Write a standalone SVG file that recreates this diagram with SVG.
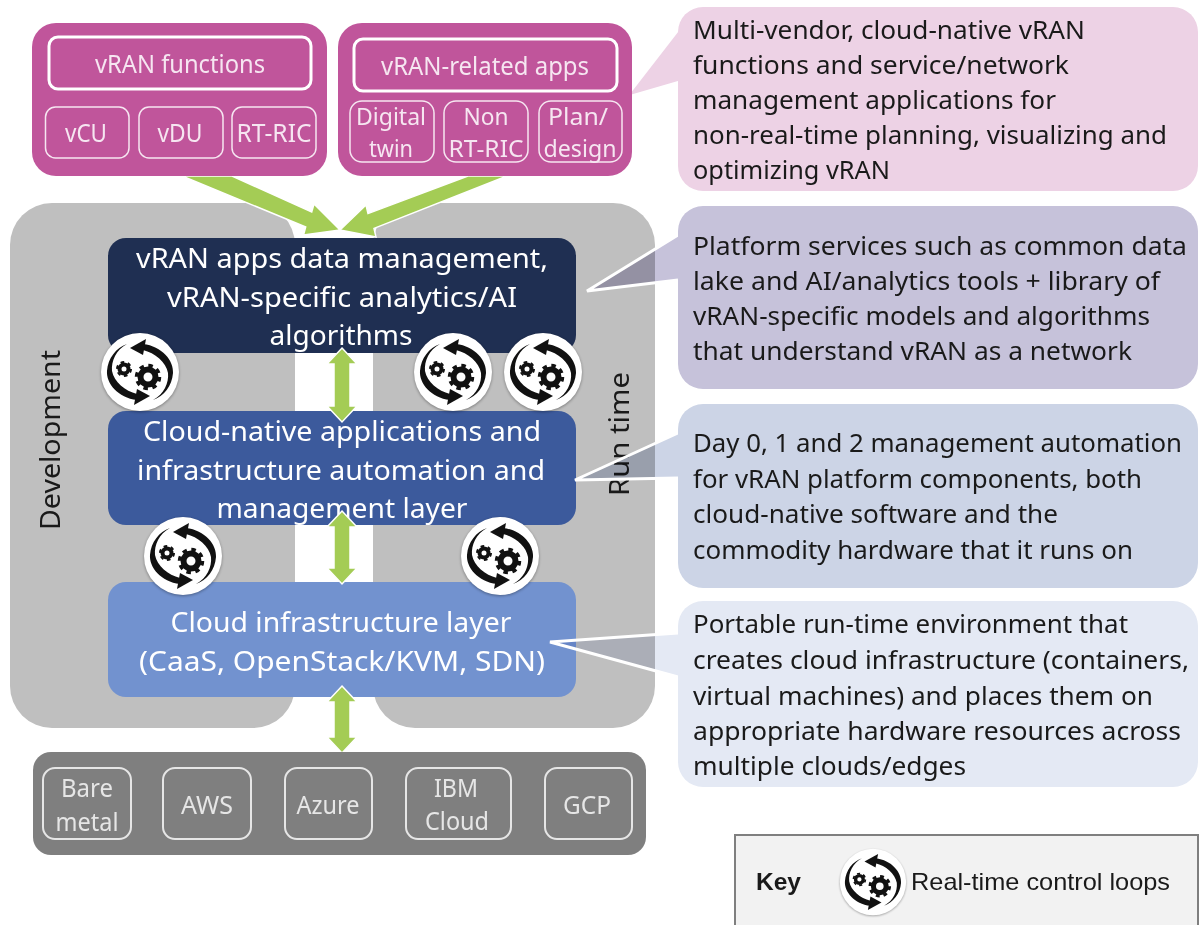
<svg xmlns="http://www.w3.org/2000/svg" xmlns:xlink="http://www.w3.org/1999/xlink" width="1203" height="925" viewBox="0 0 1203 925">
<style>
text{font-family:"Noto Sans","Liberation Sans",sans-serif}
.w{fill:#fff;text-anchor:middle;font-size:28px}
.p{fill:#f6e6f1;text-anchor:middle;font-size:26px}
.s{fill:#f6e6f1;text-anchor:middle;font-size:23px}
.g{fill:#e6e6e6;text-anchor:middle;font-size:25px}
.c{fill:#1a1a1a;font-size:25.500px}
.d{fill:#1a1a1a;font-size:28px;text-anchor:middle}
.k{fill:#1a1a1a;font-family:"Liberation Sans",Arial,sans-serif;font-size:24px}
.ob{fill:none;stroke:#fff;stroke-width:3}
.ob2{fill:none;stroke:#f6e6f1;stroke-width:1.5}
.ob3{fill:none;stroke:#e6e6e6;stroke-width:2}
.arrow{fill:#a4cc55;stroke:#fff;stroke-width:1.5;stroke-linejoin:miter}
.tail{mix-blend-mode:multiply}
.tailline{fill:none;stroke:#fff;stroke-width:3}
</style>
<defs>
<filter id="sh" x="-20%" y="-20%" width="140%" height="140%"><feGaussianBlur stdDeviation="1.5"/></filter>
<g id="loop">
<circle r="39" cx="0" cy="1" fill="#000" opacity=".35" filter="url(#sh)"/>
<circle r="39" fill="#fff"/>
<g id="arc"><path d="M3,-28C22,-26 34,-11 33,1C32,14 24,24 13,28C24,22 29,11 28,1C26,-10 15,-19 3,-22Z" fill="#111"/><path d="M-10,-24L6,-33L3,-17Z" fill="#111"/></g>
<use xlink:href="#arc" href="#arc" transform="rotate(180)"/>
<g fill="none" stroke="#111">
<circle cx="-16" cy="-3" r="4.500" stroke-width="4"/>
<circle cx="-16" cy="-3" r="7" stroke-width="2" stroke-dasharray="3.660 3.670"/>
<circle cx="8" cy="5" r="7.500" stroke-width="6"/>
<circle cx="8" cy="5" r="11.500" stroke-width="3.500" stroke-dasharray="4.500 4.530"/>
</g>
</g>
</defs>
<rect width="1203" height="925" fill="#fff"/>

<g id="panel-development"><rect x="10" y="203" width="285" height="525" rx="42" fill="#bfbfbf"/>
<text class="d" transform="translate(60,440) rotate(-90)" textLength="180" lengthAdjust="spacingAndGlyphs">Development</text></g>
<g id="panel-runtime"><rect x="373" y="203" width="282" height="525" rx="42" fill="#bfbfbf"/></g>

<g id="layer-data"><rect x="108" y="238" width="468" height="115" rx="18" fill="#1f2f52"/>
<text class="w" x="342" y="268" textLength="412" lengthAdjust="spacingAndGlyphs">vRAN apps data management,</text>
<text class="w" x="342" y="307" textLength="350" lengthAdjust="spacingAndGlyphs">vRAN-specific analytics/AI</text>
<text class="w" x="341" y="345" textLength="143" lengthAdjust="spacingAndGlyphs">algorithms</text></g>
<g id="layer-automation"><rect x="108" y="411" width="468" height="114" rx="18" fill="#3c5a9c"/>
<text class="w" x="342" y="441" textLength="398" lengthAdjust="spacingAndGlyphs">Cloud-native applications and</text>
<text class="w" x="341" y="480" textLength="408" lengthAdjust="spacingAndGlyphs">infrastructure automation and</text>
<text class="w" x="342" y="518" textLength="251" lengthAdjust="spacingAndGlyphs">management layer</text></g>
<g id="layer-infra"><rect x="108" y="582" width="468" height="115" rx="18" fill="#7292cf"/>
<text class="w" x="341" y="632" textLength="341" lengthAdjust="spacingAndGlyphs">Cloud infrastructure layer</text>
<text class="w" x="342" y="671" textLength="406" lengthAdjust="spacingAndGlyphs">(CaaS, OpenStack/KVM, SDN)</text></g>
<text class="d" transform="translate(629,434) rotate(-90)" textLength="124" lengthAdjust="spacingAndGlyphs">Run time</text>

<g id="tails">
<polygon class="tail" points="680,27 625,98 680,82" fill="#edd2e5"/><polyline class="tailline" points="680,27 625,98 680,82"/>
<polygon class="tail" points="678,235 587,291 678,280" fill="#c6c2da"/><polyline class="tailline" points="678,235 587,291 678,280"/>
<polygon class="tail" points="678,433 575,480 678,478" fill="#ccd4e6"/><polyline class="tailline" points="678,433 575,480 678,478"/>
<polygon class="tail" points="678,633 550,642 678,677" fill="#e4e9f4"/><polyline class="tailline" points="678,633 550,642 678,677"/>
</g>

<g id="icons">
<use xlink:href="#loop" href="#loop" transform="translate(140,372)"/>
<use xlink:href="#loop" href="#loop" transform="translate(453,372)"/>
<use xlink:href="#loop" href="#loop" transform="translate(543,372)"/>
<use xlink:href="#loop" href="#loop" transform="translate(183,556)"/>
<use xlink:href="#loop" href="#loop" transform="translate(500,556)"/>
</g>

<g id="connectors">
<polygon class="arrow" points="182,176 232,176 311.7,212 314,204 340,230 303.5,235 305.7,227"/>
<polygon class="arrow" points="468,176 507,176 374,228.4 376,237 340,230 366,205 368,213.6"/>
<polygon class="arrow" points="342,348 357,364 350,364 350,406 357,406 342,422 327,406 334,406 334,364 327,364"/>
<polygon class="arrow" points="342,511 357,527 350,527 350,568 357,568 342,584 327,568 334,568 334,527 327,527"/>
<polygon class="arrow" points="342,686 357,702 350,702 350,737 357,737 342,753 327,737 334,737 334,702 327,702"/>
</g>

<g id="vran-functions"><rect x="32" y="23" width="295" height="153" rx="24" fill="#c0559b"/>
<rect class="ob" x="49" y="37" width="262" height="52" rx="9"/>
<text class="p" x="180" y="73" textLength="170" lengthAdjust="spacingAndGlyphs">vRAN functions</text>
<rect class="ob2" x="45.500" y="107" width="83.500" height="51" rx="10"/><text class="p" x="86" y="142" textLength="42" lengthAdjust="spacingAndGlyphs">vCU</text>
<rect class="ob2" x="139" y="107" width="84" height="51" rx="10"/><text class="p" x="180" y="142" textLength="45" lengthAdjust="spacingAndGlyphs">vDU</text>
<rect class="ob2" x="232" y="107" width="84" height="51" rx="10"/><text class="p" x="274" y="142" textLength="75" lengthAdjust="spacingAndGlyphs">RT-RIC</text></g>

<g id="vran-apps"><rect x="338" y="23" width="294" height="153" rx="24" fill="#c0559b"/>
<rect class="ob" x="354" y="39" width="263" height="52" rx="9"/>
<text class="p" x="485" y="75" textLength="208" lengthAdjust="spacingAndGlyphs">vRAN-related apps</text>
<rect class="ob2" x="350" y="101" width="84" height="61" rx="12"/><text class="s" x="391" y="125" textLength="70" lengthAdjust="spacingAndGlyphs">Digital</text><text class="s" x="391" y="157" textLength="44" lengthAdjust="spacingAndGlyphs">twin</text>
<rect class="ob2" x="444" y="101" width="84" height="61" rx="12"/><text class="s" x="486" y="125" textLength="45" lengthAdjust="spacingAndGlyphs">Non</text><text class="s" x="486" y="157" textLength="75" lengthAdjust="spacingAndGlyphs">RT-RIC</text>
<rect class="ob2" x="539" y="101" width="83" height="61" rx="12"/><text class="s" x="578" y="125" textLength="60" lengthAdjust="spacingAndGlyphs">Plan/</text><text class="s" x="580" y="157" textLength="73" lengthAdjust="spacingAndGlyphs">design</text></g>

<g id="hardware"><rect x="33" y="752" width="613" height="103" rx="18" fill="#7f7f7f"/>
<rect class="ob3" x="43" y="768" width="88" height="71" rx="12"/><text class="g" x="87" y="797" textLength="52" lengthAdjust="spacingAndGlyphs">Bare</text><text class="g" x="87" y="831" textLength="63" lengthAdjust="spacingAndGlyphs">metal</text>
<rect class="ob3" x="163" y="768" width="88" height="71" rx="12"/><text class="g" x="207" y="814" textLength="52" lengthAdjust="spacingAndGlyphs">AWS</text>
<rect class="ob3" x="285" y="768" width="87" height="71" rx="12"/><text class="g" x="328" y="814" textLength="63" lengthAdjust="spacingAndGlyphs">Azure</text>
<rect class="ob3" x="406" y="768" width="105" height="71" rx="12"/><text class="g" x="456" y="797" textLength="44" lengthAdjust="spacingAndGlyphs">IBM</text><text class="g" x="457" y="830" textLength="64" lengthAdjust="spacingAndGlyphs">Cloud</text>
<rect class="ob3" x="545" y="768" width="87" height="71" rx="12"/><text class="g" x="587" y="814" textLength="48" lengthAdjust="spacingAndGlyphs">GCP</text></g>

<g id="callout-apps"><rect x="678" y="7" width="520" height="184" rx="25" fill="#edd2e5"/>
<text class="c" x="693" y="39" textLength="392" lengthAdjust="spacingAndGlyphs">Multi-vendor, cloud-native vRAN</text>
<text class="c" x="693" y="74" textLength="376" lengthAdjust="spacingAndGlyphs">functions and service/network</text>
<text class="c" x="693" y="109" textLength="363" lengthAdjust="spacingAndGlyphs">management applications for</text>
<text class="c" x="693" y="144" textLength="474" lengthAdjust="spacingAndGlyphs">non-real-time planning, visualizing and</text>
<text class="c" x="693" y="179" textLength="197" lengthAdjust="spacingAndGlyphs">optimizing vRAN</text></g>
<g id="callout-data"><rect x="678" y="206" width="520" height="183" rx="25" fill="#c6c2da"/>
<text class="c" x="693" y="255" textLength="494" lengthAdjust="spacingAndGlyphs">Platform services such as common data</text>
<text class="c" x="693" y="290" textLength="467" lengthAdjust="spacingAndGlyphs">lake and AI/analytics tools + library of</text>
<text class="c" x="693" y="325" textLength="457" lengthAdjust="spacingAndGlyphs">vRAN-specific models and algorithms</text>
<text class="c" x="693" y="360" textLength="439" lengthAdjust="spacingAndGlyphs">that understand vRAN as a network</text></g>
<g id="callout-automation"><rect x="678" y="404" width="520" height="184" rx="25" fill="#ccd4e6"/>
<text class="c" x="693" y="452" textLength="489" lengthAdjust="spacingAndGlyphs">Day 0, 1 and 2 management automation</text>
<text class="c" x="693" y="488" textLength="449" lengthAdjust="spacingAndGlyphs">for vRAN platform components, both</text>
<text class="c" x="693" y="523" textLength="365" lengthAdjust="spacingAndGlyphs">cloud-native software and the</text>
<text class="c" x="693" y="559" textLength="440" lengthAdjust="spacingAndGlyphs">commodity hardware that it runs on</text></g>
<g id="callout-infra"><rect x="678" y="601" width="520" height="186" rx="25" fill="#e4e9f4"/>
<text class="c" x="693" y="633" textLength="435" lengthAdjust="spacingAndGlyphs">Portable run-time environment that</text>
<text class="c" x="693" y="669" textLength="496" lengthAdjust="spacingAndGlyphs">creates cloud infrastructure (containers,</text>
<text class="c" x="693" y="705" textLength="460" lengthAdjust="spacingAndGlyphs">virtual machines) and places them on</text>
<text class="c" x="693" y="740" textLength="488" lengthAdjust="spacingAndGlyphs">appropriate hardware resources across</text>
<text class="c" x="693" y="775" textLength="273" lengthAdjust="spacingAndGlyphs">multiple clouds/edges</text></g>

<g id="key"><rect x="735" y="835" width="463" height="100" fill="#f2f2f2" stroke="#7f7f7f" stroke-width="2"/>
<text class="k" x="756" y="890" font-weight="700" textLength="45" lengthAdjust="spacingAndGlyphs">Key</text>
<use xlink:href="#loop" href="#loop" transform="translate(873,882) scale(.85)"/>
<text class="k" x="911" y="890" textLength="259" lengthAdjust="spacingAndGlyphs">Real-time control loops</text></g>
</svg>
